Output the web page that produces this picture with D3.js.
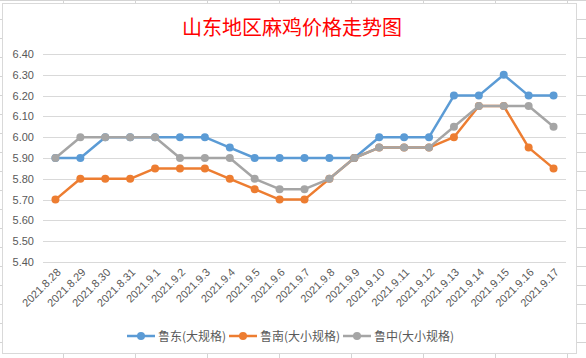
<!DOCTYPE html>
<html><head><meta charset="utf-8">
<script src="https://cdn.jsdelivr.net/npm/d3@7"></script>
<style>html,body{margin:0;padding:0;background:#fff;}svg{display:block;}</style>
</head><body>
<svg id="c" width="586" height="358"></svg>
<script>
const categories = ["2021.8.28","2021.8.29","2021.8.30","2021.8.31","2021.9.1","2021.9.2","2021.9.3","2021.9.4","2021.9.5","2021.9.6","2021.9.7","2021.9.8","2021.9.9","2021.9.10","2021.9.11","2021.9.12","2021.9.13","2021.9.14","2021.9.15","2021.9.16","2021.9.17"];
const ludong = [5.9,5.9,6.0,6.0,6.0,6.0,6.0,5.95,5.9,5.9,5.9,5.9,5.9,6.0,6.0,6.0,6.2,6.2,6.3,6.2,6.2];
const lunan = [5.7,5.8,5.8,5.8,5.85,5.85,5.85,5.8,5.75,5.7,5.7,5.8,5.9,5.95,5.95,5.95,6.0,6.15,6.15,5.95,5.85];
const luzhong = [5.9,6.0,6.0,6.0,6.0,5.9,5.9,5.9,5.8,5.75,5.75,5.8,5.9,5.95,5.95,5.95,6.05,6.15,6.15,6.15,6.05];
const seriesNames = ["鲁东(大规格)","鲁南(大小规格)","鲁中(大小规格)"];
const yTicks = [5.40,5.50,5.60,5.70,5.80,5.90,6.00,6.10,6.20,6.30,6.40];
const titleText = "山东地区麻鸡价格走势图";

const colors = ["#5B9BD5","#ED7D31","#A5A5A5"];
const series = [ludong, lunan, luzhong].map((v,i)=>({name:seriesNames[i], values:v, color:colors[i]}));

const svg = d3.select("#c");
// spreadsheet background grid
const bg = svg.append("g");
const colXs = d3.range(-9, 586, 72);
const rowYs = d3.range(0, 358, 19);
bg.selectAll("line.v").data(colXs).join("line")
  .attr("x1",d=>d+0.5).attr("x2",d=>d+0.5).attr("y1",0).attr("y2",358)
  .attr("stroke","#d4d4d4").attr("stroke-width",1);
bg.selectAll("line.h").data(rowYs).join("line")
  .attr("x1",0).attr("x2",586).attr("y1",d=>d+0.5).attr("y2",d=>d+0.5)
  .attr("stroke","#d4d4d4").attr("stroke-width",1);
// chart area
svg.append("rect").attr("x",2.5).attr("y",3.5).attr("width",574).attr("height",350)
  .attr("fill","#fff").attr("stroke","#d9d9d9").attr("stroke-width",1);

const plot = {left:43, right:566, top:54, bottom:262};
const x = d3.scaleBand().domain(categories).range([plot.left, plot.right]);
const y = d3.scaleLinear().domain([5.4,6.4]).range([plot.bottom, plot.top]);
const cx = d => x(d) + x.bandwidth()/2;

// title
svg.append("text").attr("x",292).attr("y",35).attr("text-anchor","middle")
  .attr("font-family","'Noto Sans CJK SC', sans-serif").attr("font-size",20)
  .attr("fill","#FF0000").text(titleText);

// gridlines
svg.append("g").selectAll("line").data(yTicks).join("line")
  .attr("x1",plot.left).attr("x2",plot.right)
  .attr("y1",d=>Math.round(y(d))+0.5).attr("y2",d=>Math.round(y(d))+0.5)
  .attr("stroke","#d9d9d9").attr("stroke-width",1);

// y axis
const yAxis = d3.axisLeft(y).tickValues(yTicks).tickFormat(d3.format(".2f")).tickSize(0).tickPadding(0);
const yg = svg.append("g").attr("transform",`translate(${plot.left-9},0)`).call(yAxis);
yg.select(".domain").remove();
yg.selectAll("text").attr("font-family","'Liberation Sans', Arial, sans-serif").attr("font-size",11).attr("fill","#595959");

// x axis
const xAxis = d3.axisBottom(x).tickSize(0).tickPadding(0);
const xg = svg.append("g").attr("transform",`translate(0,${plot.bottom})`).call(xAxis);
xg.select(".domain").remove();
xg.selectAll("text")
  .attr("font-family","'Liberation Sans', Arial, sans-serif").attr("font-size",11).attr("fill","#595959")
  .attr("text-anchor","end").attr("dy",null).attr("y",0)
  .attr("transform","translate(6,11) rotate(-45)");

// lines
const line = d3.line().x((d,i)=>cx(categories[i])).y(d=>y(d));
const sg = svg.append("g");
series.forEach(s=>{
  sg.append("path").datum(s.values).attr("d",line).attr("fill","none")
    .attr("stroke",s.color).attr("stroke-width",2.5).attr("stroke-linejoin","round");
  sg.append("g").selectAll("circle").data(s.values).join("circle")
    .attr("cx",(d,i)=>cx(categories[i])).attr("cy",d=>y(d)).attr("r",4).attr("fill",s.color);
});

// legend
const legendX = [127, 229, 343];
const lg = svg.append("g");
series.forEach((s,i)=>{
  const g = lg.append("g").attr("transform",`translate(${legendX[i]},336)`);
  g.append("line").attr("x1",0).attr("x2",28).attr("y1",0).attr("y2",0).attr("stroke",s.color).attr("stroke-width",2.5);
  g.append("circle").attr("cx",14).attr("cy",0).attr("r",4).attr("fill",s.color);
  g.append("text").attr("x",31).attr("y",4.5).attr("font-family","'Noto Sans CJK SC', sans-serif")
    .attr("font-size",12).attr("fill","#595959").text(s.name);
});
</script>
</body></html>
